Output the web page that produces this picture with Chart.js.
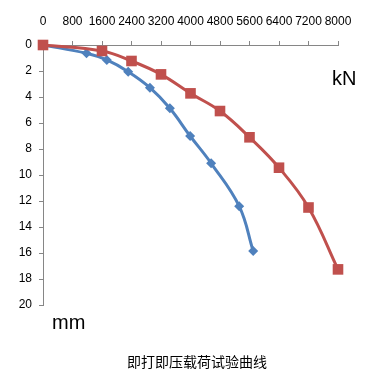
<!DOCTYPE html>
<html>
<head>
<meta charset="utf-8">
<script src="https://cdn.jsdelivr.net/npm/chart.js@4/dist/chart.umd.min.js"></script>
<style>
  html, body { margin: 0; padding: 0; background: #fff; }
  #wrap { position: relative; width: 386px; height: 388px; }
  canvas { position: absolute; left: 0; top: 0; }
  .lbl { position: absolute; font-family: "Liberation Sans", Arial, sans-serif; font-size: 20px; line-height: 20px; color: #000; white-space: nowrap; }
  #title { position: absolute; left: 4px; width: 386px; top: 354px; text-align: center; font-family: "Noto Sans CJK SC", sans-serif; font-size: 14px; line-height: 14px; color: #000; }
</style>
</head>
<body>
<div id="wrap">
  <canvas id="c" width="386" height="388"></canvas>
  <div class="lbl" style="left:332px; top:68px;">kN</div>
  <div class="lbl" style="left:52px; top:312px;">mm</div>
  <div id="title">即打即压载荷试验曲线</div>
</div>
<script>
// Load (kN) and settlement (mm)
const blueLoad = [0, 1180, 1730, 2310, 2900, 3440, 3990, 4560, 5320, 5700];
const blueSettle = [0, 0.64, 1.15, 2.05, 3.28, 4.87, 7.0, 9.1, 12.4, 15.85];
const redLoad = [0, 1600, 2400, 3200, 4000, 4800, 5600, 6400, 7200, 8000];
const redSettle = [0, 0.46, 1.23, 2.26, 3.72, 5.08, 7.1, 9.44, 12.5, 17.26];
const xTicks = [0, 800, 1600, 2400, 3200, 4000, 4800, 5600, 6400, 7200, 8000];
const yTicks = [0, 2, 4, 6, 8, 10, 12, 14, 16, 18, 20];

const toPts = (xs, ys) => xs.map((x, i) => ({ x: x, y: ys[i] }));
const tickFont = { family: '"Liberation Sans", Arial, sans-serif', size: 12 };
const axisGrey = '#868686';

new Chart(document.getElementById('c'), {
  type: 'scatter',
  data: {
    datasets: [
      {
        data: toPts(redLoad, redSettle),
        showLine: true,
        borderColor: '#C0504D',
        backgroundColor: '#C0504D',
        borderWidth: 3,
        pointStyle: 'rect',
        pointRadius: 7.5,
        pointBorderWidth: 0,
        tension: 0.4,
        clip: false,
        order: 1
      },
      {
        data: toPts(blueLoad, blueSettle),
        showLine: true,
        borderColor: '#4F81BD',
        backgroundColor: '#4F81BD',
        borderWidth: 3,
        pointStyle: 'rectRot',
        pointRadius: 5,
        pointBorderWidth: 0,
        tension: 0.4,
        clip: false,
        order: 2
      }
    ]
  },
  options: {
    responsive: false,
    animation: false,
    layout: { padding: { left: 0, top: 0, right: 48, bottom: 83 } },
    plugins: { legend: { display: false }, tooltip: { enabled: false } },
    scales: {
      x: {
        type: 'linear',
        position: 'top',
        min: 0, max: 8000,
        afterBuildTicks: (s) => { s.ticks = xTicks.map(v => ({ value: v })); },
        afterFit: (s) => { s.height = 45; },
        ticks: { autoSkip: false, maxRotation: 0, minRotation: 0, font: tickFont, color: '#000', padding: 12, callback: (v) => String(v) },
        grid: { drawOnChartArea: false, tickLength: 4, color: axisGrey },
        border: { color: axisGrey, width: 1 }
      },
      y: {
        type: 'linear',
        reverse: true,
        min: 0, max: 20,
        afterBuildTicks: (s) => { s.ticks = yTicks.map(v => ({ value: v })); },
        afterFit: (s) => { s.width = 43; },
        ticks: { autoSkip: false, font: tickFont, color: '#000', padding: 7, callback: (v) => String(v) },
        grid: { drawOnChartArea: false, tickLength: 4, color: axisGrey },
        border: { color: axisGrey, width: 1 }
      }
    }
  }
});
</script>
</body>
</html>
